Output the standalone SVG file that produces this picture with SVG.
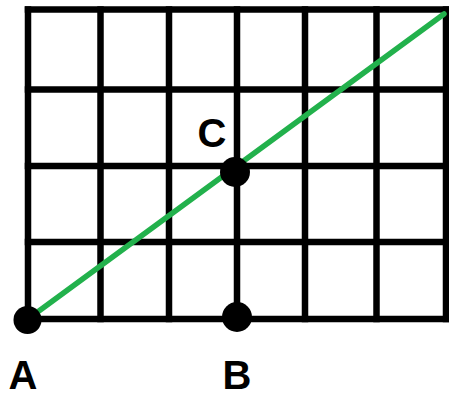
<svg xmlns="http://www.w3.org/2000/svg" width="449" height="398" viewBox="0 0 449 398">
<style>
.grid line{stroke:#000;stroke-width:6.5;stroke-linecap:square}
.dot{fill:#000}
.lbl{font-family:"Liberation Sans",Arial,sans-serif;font-weight:bold;font-size:40px;fill:#000;text-anchor:middle}
</style>
<rect width="449" height="398" fill="#fff"/>
<g id="grid" class="grid">
<line x1="28" y1="9.5" x2="447" y2="9.5"/>
<line x1="28" y1="89.5" x2="447" y2="89.5"/>
<line x1="28" y1="166" x2="447" y2="166"/>
<line x1="28" y1="242" x2="447" y2="242"/>
<line x1="28" y1="319" x2="447" y2="319"/>
<line x1="28" y1="9.5" x2="28" y2="319"/>
<line x1="100.5" y1="9.5" x2="100.5" y2="319"/>
<line x1="169" y1="9.5" x2="169" y2="319"/>
<line x1="237" y1="9.5" x2="237" y2="319"/>
<line x1="305" y1="9.5" x2="305" y2="319"/>
<line x1="376.5" y1="9.5" x2="376.5" y2="319"/>
<line x1="446" y1="9.5" x2="446" y2="319"/>
</g>
<g id="connectors">
<line x1="28" y1="319" x2="444" y2="14" stroke="#22b14c" stroke-width="5.5" stroke-linecap="round"/>
</g>
<g id="A"><circle class="dot" cx="27.5" cy="320" r="14"/><text class="lbl" x="23" y="389">A</text></g>
<g id="B"><circle class="dot" cx="237" cy="317" r="15"/><text class="lbl" x="237" y="389">B</text></g>
<g id="C"><circle class="dot" cx="235" cy="172" r="15"/><text class="lbl" x="212" y="147">C</text></g>
</svg>
